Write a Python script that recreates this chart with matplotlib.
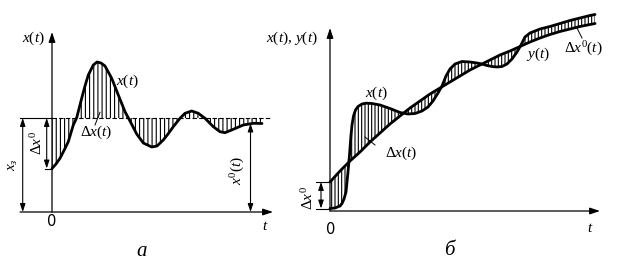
"""
Переходный процесс: отклонение x(t) от заданного значения (а)
и от заданной функции y(t) (б)
"""
import numpy as np
import matplotlib.pyplot as plt

plt.rcParams.update({
    'mathtext.fontset': 'custom',
    'mathtext.rm': 'Liberation Serif',
    'mathtext.it': 'Liberation Serif:italic',
    'hatch.linewidth': 0.8,
})

# ---- панель а: x(t) около уровня x_з ----
t_a = [0, 4, 8, 12, 16.3, 21.3, 24.7, 29.7, 33, 36.3, 41.3, 45, 49, 53, 59.7,
       66.3, 73, 78, 84.7, 91.3, 99.7, 105, 111.3, 116, 121.3, 128, 133, 139.7,
       146.3, 153, 161.3, 168, 173, 181.3, 191.3, 201.3, 210]
x_a = [43.5, 48, 53.7, 61.5, 70.3, 87, 94.3, 113.7, 126, 137, 147, 150, 149,
       146, 133.7, 117, 100.3, 91, 78, 69, 65, 66, 72, 78, 85.3, 93.7, 98.7,
       101, 98.7, 93.7, 85.3, 80.3, 79.3, 82.7, 87, 88.7, 88.5]
x_set = 94          # уровень x_з
t_dash_end = 218

# ---- панель б: x(t) около y(t) ----
t_y = [0, 10, 20, 30, 40, 50, 60, 70, 80, 90, 100, 110, 120, 130, 140, 150,
       160, 170, 180, 190, 200, 210, 220, 230, 240, 250, 260, 265]
y_b = [29, 40, 50, 59, 69, 78, 87, 95, 103, 110, 117, 123, 129, 135, 141, 146,
       151, 156, 160, 164.5, 169, 173, 176.5, 179.5, 182, 184.5, 186.5, 187.5]
t_x = [0, 5, 10, 12, 14, 16, 18, 19.5, 21, 22, 23.5, 25.5, 28, 32, 36, 42, 50,
       60, 70, 78, 85, 92, 98, 103, 108, 112, 116, 120, 125, 132, 140, 147, 152,
       157, 162, 167, 172, 177, 182, 187, 191, 195, 200, 210, 220, 230, 240,
       250, 260, 265]
x_b = [2.5, 3, 5, 7.5, 12, 19, 39, 56, 76, 86, 95, 101, 104.5, 107, 107.8,
       107.5, 106, 102.5, 98.5, 97, 97.5, 100, 104, 110, 118, 125, 135, 142,
       147, 149.5, 149, 148, 147, 145.5, 144.5, 144, 144.5, 147, 152, 159, 166,
       174, 178, 182, 184.5, 187.5, 190.5, 193, 195.5, 196.5]

W, H = 623, 264
fig = plt.figure(figsize=(W / 100, H / 100), dpi=100)

LW_CURVE = 2.0
LW_AX = 0.9
txt = dict(fontsize=11, ha='center', va='center')


def axis_arrow(ax, p0, p1):
    ax.annotate('', xy=p1, xytext=p0,
                arrowprops=dict(arrowstyle='-|>,head_length=0.6,head_width=0.2',
                                lw=LW_AX, color='k', mutation_scale=10,
                                shrinkA=0, shrinkB=0))


def dim_arrow(ax, p0, p1):
    ax.annotate('', xy=p1, xytext=p0,
                arrowprops=dict(arrowstyle='<|-|>,head_length=0.6,head_width=0.2',
                                lw=0.8, color='k', mutation_scale=8,
                                shrinkA=0, shrinkB=0))


# ===== (а) =====
ax = fig.add_axes([0, 0, 300 / W, 1])
ax.set_xlim(-52, 248)
ax.set_ylim(-52, 212)
ax.axis('off')

ta = np.array(t_a)
xa = np.array(x_a)
ax.fill(np.r_[ta, ta[-1], ta[0]], np.r_[xa, x_set, x_set],
        facecolor='none', edgecolor='k', lw=0, hatch='||||')
ax.plot(ta, xa, color='k', lw=LW_CURVE, solid_capstyle='round')
ax.plot([0, t_dash_end], [x_set, x_set], color='k', lw=0.8, ls=(0, (4, 2)))
ax.plot([-32, 0], [x_set, x_set], color='k', lw=0.8)
ax.plot([-7, 0], [x_a[0], x_a[0]], color='k', lw=0.8)

axis_arrow(ax, (-32, 0), (221, 0))
axis_arrow(ax, (0, 0), (0, 180))
dim_arrow(ax, (-29.3, 0), (-29.3, x_set))
dim_arrow(ax, (-5.3, x_a[0]), (-5.3, x_set))
dim_arrow(ax, (198.5, 0), (198.5, x_a[-1]))
ax.plot([43, 48], [87, 99.7], color='k', lw=0.7)

ax.text(-19, 174, '$x(t)$', **txt)
ax.text(75, 131, '$x(t)$', **txt)
ax.text(44, 80, r'$\Delta x(t)$', **txt)
ax.text(-14.5, 69, r'$\Delta x^0$', rotation=90, **txt)
ax.text(-40, 47, '$x_з$', rotation=90, **txt)
ax.text(186, 42, '$x^0(t)$', rotation=90, **txt)
ax.text(0, -10, '0', fontsize=10.5, ha='center', va='center')
ax.text(213, -13, '$t$', **txt)
ax.text(90, -40, 'а', fontsize=15, style='italic', family='Liberation Serif',
        ha='center', va='center')

# ===== (б) =====
ax = fig.add_axes([300 / W, 0, 323 / W, 1])
ax.set_xlim(-30, 293)
ax.set_ylim(-53, 211)
ax.axis('off')

tx, xb = np.array(t_x), np.array(x_b)
ty, yb = np.array(t_y), np.array(y_b)
ax.fill(np.r_[tx, ty[::-1]], np.r_[xb, yb[::-1]],
        facecolor='none', edgecolor='k', lw=0, hatch='|||||')
ax.plot(ty, yb, color='k', lw=LW_CURVE, solid_capstyle='round')
ax.plot(tx, xb, color='k', lw=LW_CURVE, solid_capstyle='round')

axis_arrow(ax, (0, 0), (270, 0))
axis_arrow(ax, (0, 0), (0, 183))
ax.plot([-14, 0], [y_b[0], y_b[0]], color='k', lw=0.8)
ax.plot([-14, 0], [x_b[0], x_b[0]], color='k', lw=0.8)
dim_arrow(ax, (-9, x_b[0]), (-9, y_b[0]))
ax.plot([35, 45], [74, 66], color='k', lw=0.7)
ax.plot([247, 252], [183, 173], color='k', lw=0.7)

ax.text(-38, 173, '$x(t),\\, y(t)$', **txt)
ax.text(46, 118, '$x(t)$', **txt)
ax.text(71, 58, r'$\Delta x(t)$', **txt)
ax.text(208, 157, '$y(t)$', **txt)
ax.text(253, 162, r'$\Delta x^0(t)$', **txt)
ax.text(-22, 13, r'$\Delta x^0$', rotation=90, **txt)
ax.text(1, -19, '0', fontsize=10.5, ha='center', va='center')
ax.text(260, -16, '$t$', **txt)
ax.text(119, -39.5, 'б', fontsize=15, style='italic', family='Liberation Serif',
        ha='center', va='center')

fig.savefig('out.png', dpi=100)
